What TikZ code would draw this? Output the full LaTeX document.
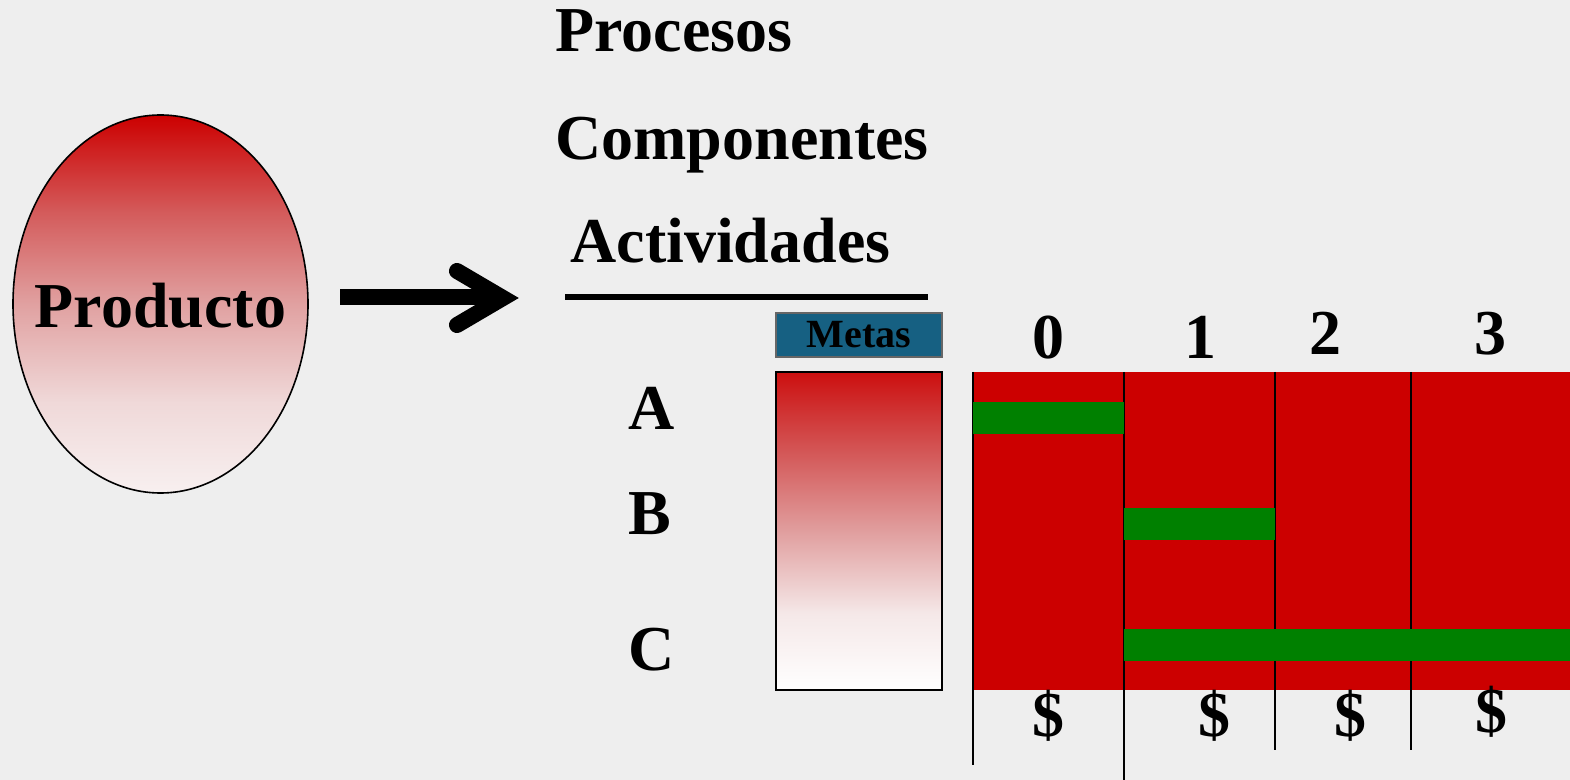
\documentclass[tikz,border=0pt]{standalone}
\usepackage{fontspec}
\setmainfont{Liberation Serif}
\usetikzlibrary{positioning,shapes.geometric}
\definecolor{bgGray}{RGB}{238,238,238}
\definecolor{planRed}{RGB}{204,0,0}
\definecolor{barGreen}{RGB}{0,128,0}
\definecolor{metaBlue}{RGB}{22,96,130}
\pgfdeclareverticalshading{prodShade}{100bp}{%
  rgb(0bp)=(0.97,0.94,0.94); rgb(25bp)=(0.97,0.94,0.94);
  rgb(37bp)=(0.94,0.85,0.85); rgb(50bp)=(0.88,0.63,0.63);
  rgb(62bp)=(0.83,0.36,0.36); rgb(75bp)=(0.8,0,0); rgb(100bp)=(0.8,0,0)}
\pgfdeclareverticalshading{goalShade}{100bp}{%
  rgb(0bp)=(1,1,1); rgb(25bp)=(1,1,1);
  rgb(37bp)=(0.96,0.91,0.91); rgb(50bp)=(0.88,0.62,0.62);
  rgb(62bp)=(0.83,0.35,0.35); rgb(75bp)=(0.8,0.06,0.06); rgb(100bp)=(0.8,0.06,0.06)}

\begin{document}
\begin{tikzpicture}[
  x=0.5pt, y=-0.5pt,
  big/.style={font=\fontsize{32}{36}\selectfont\bfseries, inner sep=0pt},
  hdr/.style={big, anchor=base west},
  row/.style={big, anchor=base},
  box/.style={rectangle, inner sep=0pt, minimum width=83pt},
  bar/.style={rectangle, inner sep=0pt, fill=barGreen, minimum height=16pt},
  grid/.style={line width=1pt, black}
]
\fill[bgGray] (0,0) rectangle (1570,780);
\useasboundingbox (0,0) rectangle (1570,780);
% product
\node[ellipse, draw=black, line width=0.8pt, shading=prodShade,
      minimum width=147.5pt, minimum height=189pt, inner sep=0pt] (prod) at (160.5,304) {};
\node[big, anchor=base] (prodtxt) at (160.5,328) {Producto};
% arrow
\coordinate (arrS) at (340,297);
\coordinate (arrE) at (500,297);
\draw[line width=8pt] (arrS) -- (arrE);
\draw[line width=8pt, line cap=round, line join=miter] (457,271) -- (503,298) -- (457,325);
% headings
\node[hdr] (proc) at (555,52) {Procesos};
\node[hdr] (comp) at (555,160) {Componentes};
\node[hdr] (act) at (570,263) {Actividades};
\draw[line width=3pt] (565,297) -- (928,297);
% goals
\node[box, draw=black!60, line width=0.6pt, fill=metaBlue, minimum height=22pt,
      font=\fontsize{20}{24}\selectfont\bfseries] (metas) at (859,335) {Metas};
\node[box, draw=black, line width=0.6pt, shading=goalShade,
      minimum height=159pt] (goals) at (859,531) {};
\node[row] (rA) at (652,430) {A};
\node[row] (rB) at (650,535) {B};
\node[row] (rC) at (652,670) {C};
% schedule
\node[rectangle, inner sep=0pt, fill=planRed, minimum width=298.5pt, minimum height=159pt] (plan) at (1271.5,531) {};
\draw[grid] (973,372) -- (973,765);
\draw[grid] (1124,372) -- (1124,780);
\draw[grid] (1275,372) -- (1275,750);
\draw[grid] (1411,372) -- (1411,750);
\node[bar, minimum width=75.5pt] (barA) at (1048.5,418) {};
\node[bar, minimum width=75.5pt] (barB) at (1199.5,524) {};
\node[bar, minimum width=223pt] (barC) at (1347,645) {};
\node[row] (t0) at (1048,359) {0};
\node[row] (t1) at (1200,359) {1};
\node[row] (t2) at (1325,355) {2};
\node[row] (t3) at (1490,355) {3};
\node[row] (c0) at (1048,736) {\$};
\node[row] (c1) at (1214,736) {\$};
\node[row] (c2) at (1350,736) {\$};
\node[row] (c3) at (1491,733) {\$};
\end{tikzpicture}
\end{document}
